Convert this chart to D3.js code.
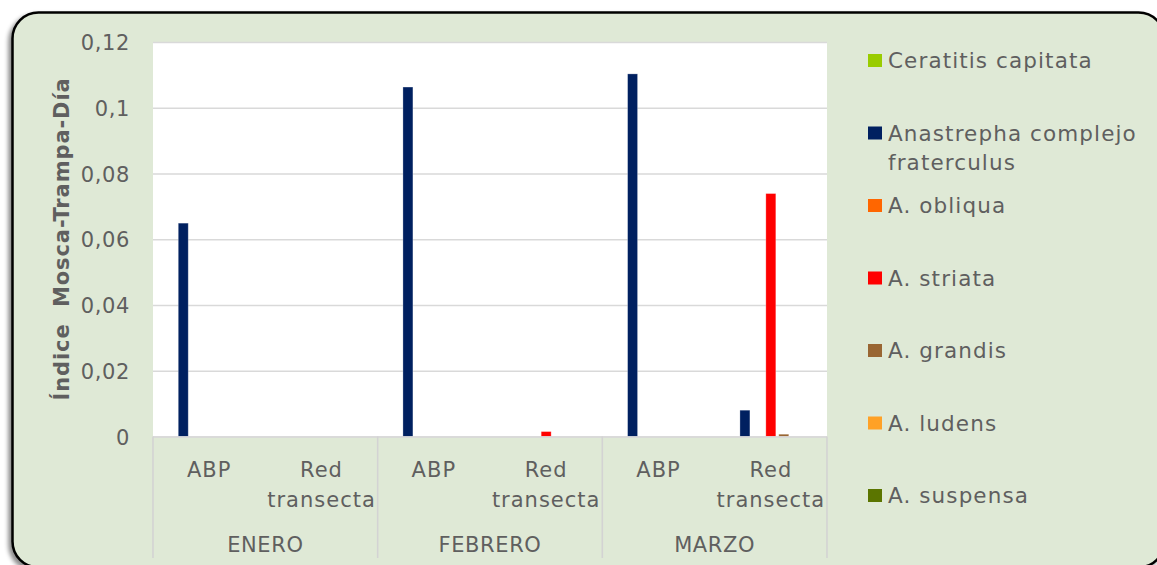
<!DOCTYPE html>
<html>
<head>
<meta charset="utf-8">
<script src="https://cdn.jsdelivr.net/npm/d3@7"></script>
<style>
  html, body { margin: 0; padding: 0; background: #ffffff; }
  svg { display: block; }
</style>
</head>
<body>
<svg id="chart" width="1157" height="565"></svg>
<script>
// ---- data ----
const months = ["ENERO", "FEBRERO", "MARZO"];
const trapTypes = ["ABP", "Red transecta"];
const seriesNames = ["Ceratitis capitata", "Anastrepha complejo fraterculus", "A. obliqua", "A. striata", "A. grandis", "A. ludens", "A. suspensa"];
const seriesColors = ["#99CC00", "#002060", "#FF6600", "#FF0000", "#996633", "#FFA126", "#5B7500"];
// values per sub-category: ENERO-ABP, ENERO-Red, FEBRERO-ABP, FEBRERO-Red, MARZO-ABP, MARZO-Red
const ceratitis  = [0, 0, 0, 0, 0, 0];
const anastrepha = [0.0649, 0, 0.1063, 0, 0.1103, 0.0080];
const obliqua    = [0, 0, 0, 0, 0, 0];
const striata    = [0, 0, 0, 0.0015, 0, 0.0739];
const grandis    = [0, 0, 0, 0, 0, 0.0007];
const ludens     = [0, 0, 0, 0, 0, 0];
const suspensa   = [0, 0, 0, 0, 0, 0];
const yTicks = [0, 0.02, 0.04, 0.06, 0.08, 0.1, 0.12];
const yTickLabels = ["0", "0,02", "0,04", "0,06", "0,08", "0,1", "0,12"];
const yTitle = "Índice\u00A0\u00A0Mosca-Trampa-Día";

const seriesValues = [ceratitis, anastrepha, obliqua, striata, grandis, ludens, suspensa];
const subCats = [];
months.forEach(m => trapTypes.forEach(t => subCats.push(m + "|" + t)));

// ---- layout ----
const svg = d3.select("#chart");
const FONT = "'DejaVu Sans', sans-serif";
const TXT = "#5f5f5f";
const BG = "#DFE9D6";
const plot = { left: 153, right: 827, top: 42, bottom: 436.5 };

const defs = svg.append("defs");
const f = defs.append("filter").attr("id", "shadow").attr("x", "-5%").attr("y", "-5%").attr("width", "110%").attr("height", "110%");
f.append("feDropShadow").attr("dx", -3).attr("dy", 3).attr("stdDeviation", 2).attr("flood-color", "#000").attr("flood-opacity", 0.45);

svg.append("rect")
  .attr("x", 12.5).attr("y", 12.5).attr("width", 1152).attr("height", 555)
  .attr("rx", 26).attr("ry", 26)
  .attr("fill", BG).attr("stroke", "#000").attr("stroke-width", 2.5)
  .attr("filter", "url(#shadow)");

// plot area background
svg.append("rect")
  .attr("x", plot.left).attr("y", plot.top)
  .attr("width", plot.right - plot.left).attr("height", plot.bottom - plot.top)
  .attr("fill", "#ffffff");

const y = d3.scaleLinear().domain([0, 0.12]).range([plot.bottom, plot.top]);
const x0 = d3.scaleBand().domain(subCats).range([plot.left, plot.right]).padding(0);
const x1 = d3.scaleBand().domain(d3.range(seriesNames.length)).range([0, x0.bandwidth()])
  .paddingInner(0.23).paddingOuter(0.95);
const xm = d3.scaleBand().domain(months).range([plot.left, plot.right]).padding(0);

// gridlines via axis
const yAxis = d3.axisLeft(y).tickValues(yTicks)
  .tickSize(-(plot.right - plot.left))
  .tickFormat((d, i) => yTickLabels[i]);
const gy = svg.append("g").attr("transform", `translate(${plot.left},0)`).call(yAxis);
gy.select(".domain").remove();
gy.selectAll(".tick line").attr("stroke", "#D9D9D9").attr("stroke-width", 1.6);
gy.selectAll(".tick text")
  .attr("x", -23).attr("dy", "0.36em")
  .attr("fill", TXT).attr("font-family", FONT).attr("font-size", 21)
  .attr("letter-spacing", 0.6)
  .attr("text-anchor", "end");

// bars
const barsData = [];
seriesValues.forEach((vals, si) => vals.forEach((v, ci) => barsData.push({ si, cat: subCats[ci], v })));
svg.append("g").selectAll("rect").data(barsData.filter(d => d.v > 0)).join("rect")
  .attr("x", d => x0(d.cat) + x1(d.si))
  .attr("width", x1.bandwidth())
  .attr("y", d => y(d.v))
  .attr("height", d => y(0) - y(d.v))
  .attr("fill", d => seriesColors[d.si])
  .attr("stroke", "#ffffff").attr("stroke-opacity", 0.35).attr("stroke-width", 0.8);

// category axis lines
const axisG = svg.append("g");
axisG.append("line")
  .attr("x1", plot.left).attr("x2", plot.right)
  .attr("y1", plot.bottom + 0.5).attr("y2", plot.bottom + 0.5)
  .attr("stroke", "#D9D9D9").attr("stroke-width", 1.6);
const sepX = months.map(m => xm(m)).concat([plot.right]);
axisG.selectAll("line.sep").data(sepX).join("line").attr("class", "sep")
  .attr("x1", d => d).attr("x2", d => d)
  .attr("y1", plot.bottom).attr("y2", 558)
  .attr("stroke", "#D3D3D3").attr("stroke-width", 1.6);

// sub-category labels
const subG = axisG.selectAll("text.sub").data(subCats).join("text").attr("class", "sub")
  .attr("x", d => x0(d) + x0.bandwidth() / 2)
  .attr("y", 476.5)
  .attr("text-anchor", "middle")
  .attr("fill", TXT).attr("font-family", FONT).attr("font-size", 21).attr("letter-spacing", 1);
subG.each(function (d) {
  const label = d.split("|")[1];
  const parts = label === "Red transecta" ? ["Red", "transecta"] : [label];
  const t = d3.select(this);
  parts.forEach((p, i) => {
    t.append("tspan").attr("x", x0(d) + x0.bandwidth() / 2).attr("dy", i === 0 ? 0 : 30).text(p);
  });
});

// month labels
axisG.selectAll("text.month").data(months).join("text").attr("class", "month")
  .attr("x", d => xm(d) + xm.bandwidth() / 2)
  .attr("y", 552)
  .attr("text-anchor", "middle")
  .attr("fill", TXT).attr("font-family", FONT).attr("font-size", 21).attr("letter-spacing", 0.6)
  .text(d => d);

// y title
svg.append("text")
  .attr("transform", "translate(69,239) rotate(-90)")
  .attr("text-anchor", "middle")
  .attr("fill", TXT).attr("font-family", FONT).attr("font-weight", "bold")
  .attr("font-size", 21).attr("letter-spacing", 0.9)
  .text(yTitle);

// legend
const legendRowY = d3.scalePoint().domain(seriesNames).range([60.5, 495.5]);
const lg = svg.append("g").selectAll("g").data(seriesNames).join("g")
  .attr("transform", d => `translate(868,${legendRowY(d)})`);
lg.append("rect").attr("x", 0).attr("y", -6.5).attr("width", 14).attr("height", 13)
  .attr("fill", (d, i) => seriesColors[i]);
lg.append("text")
  .attr("x", 20).attr("y", 7.5)
  .attr("fill", TXT).attr("font-family", FONT).attr("font-size", 21.5).attr("letter-spacing", 1.1)
  .each(function (d) {
    const t = d3.select(this);
    const lines = d === "Anastrepha complejo fraterculus" ? ["Anastrepha complejo", "fraterculus"] : [d];
    lines.forEach((l, i) => t.append("tspan").attr("x", 20).attr("dy", i === 0 ? 0 : 29.5).text(l));
  });
</script>
</body>
</html>
